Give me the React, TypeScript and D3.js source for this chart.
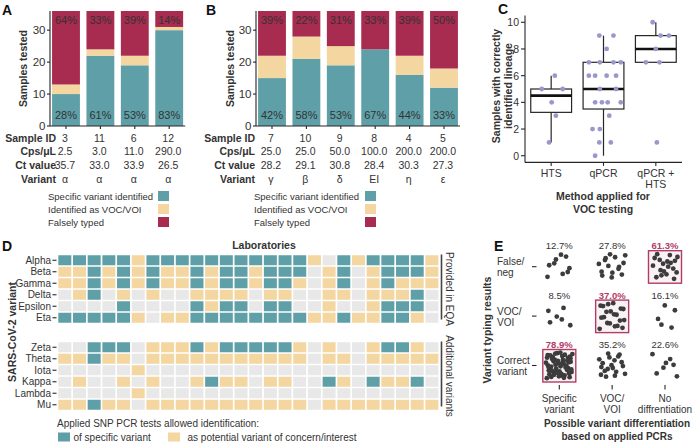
import React from "react";
import * as d3 from "d3";

const FONT = "'Liberation Sans', Arial, Helvetica, sans-serif";
const TEAL = "#5fa0a8";
const YELLOW = "#f3d6a0";
const RED = "#a82b50";
const GREY_CELL = "#e8e8e8";
const INK = "#333333";
const AXIS = "#262626";
const LAVENDER = "#9a97cb";
const DOT = "#3c3c3c";
const PINK = "#b23c66";

// ---------- Panel A ----------
const aSampleIds = ["3", "11", "6", "12"];
const aCps = ["2.5", "3.0", "11.0", "290.0"];
const aCt = ["35.7", "33.0", "33.9", "26.5"];
const aVariant = ["α", "α", "α", "α"];
const aSpecific = [10, 22, 19, 30];
const aVocVoi = [3, 2, 3, 1];
const aFalse = [23, 12, 14, 5];

// ---------- Panel B ----------
const bSampleIds = ["7", "10", "9", "8", "4", "5"];
const bCps = ["25.0", "25.0", "50.0", "100.0", "200.0", "200.0"];
const bCt = ["28.2", "29.1", "30.8", "28.4", "30.3", "27.3"];
const bVariant = ["γ", "β", "δ", "EI", "η", "ε"];
const bSpecific = [15, 21, 19, 24, 16, 12];
const bVocVoi = [7, 7, 6, 0, 6, 6];
const bFalse = [14, 8, 11, 12, 14, 18];

const barTicks = [0, 10, 20, 30];
const tableLabels = ["Sample ID", "Cps/μL", "Ct value", "Variant"];
const outcomeKeys = ["specific", "vocvoi", "falsely"];
const outcomeLabels = ["Specific variant identified", "Identified as VOC/VOI", "Falsely typed"];
const outcomeColors = [TEAL, YELLOW, RED];

// ---------- Panel C ----------
const cMethods = ["HTS", "qPCR", "qPCR + HTS"];
const cHtsValues = [5, 6, 5, 4, 3, 1];
const cHtsJitter = [-0.18, 0.07, 0.22, 0.01, 0.09, -0.04];
const cQpcrValues = [9, 9, 8, 7, 7, 7, 7, 6, 6, 6, 6, 5, 5, 4, 4, 4, 4, 3, 2, 2, 1, 1, 0];
const cQpcrJitter = [-0.08, 0.19, 0.06, -0.28, -0.07, 0.19, 0.33, -0.28, -0.16, 0.06, 0.24, -0.07, 0.24, -0.16, -0.03, 0.08, 0.33, 0.11, -0.21, -0.07, -0.08, 0.14, -0.16];
const cBothValues = [10, 9, 9, 8, 7, 7, 1];
const cBothJitter = [-0.06, 0.09, 0.25, 0.0, -0.19, 0.07, 0.02];
const cTicks = [0, 2, 4, 6, 8, 10];

// ---------- Panel D ----------
// S = specific variant, V = potential VOC/VOI, N = not identified
const eqaVariants = ["Alpha", "Beta", "Gamma", "Delta", "Epsilon", "Eta"];
const eqaRows = [
  "SSSSSVSSSSSSS" + "SSSSVNSVSSSSV",
  "VVSVSVSVVSVSS" + "VSSSNVSNVSSSV",
  "VVSVSVSVVSVSS" + "VSSVNVSNVSVVV",
  "NVSNVNVNNVVVV" + "NVVNNVVNVVVSN",
  "NNNNSNNNNSVSS" + "NSSNNVNNVSSSN",
  "SSSSSVNVVSSSS" + "SSSSVVSVVSSVN",
];
const addVariants = ["Zeta", "Theta", "Iota", "Kappa", "Lambda", "Mu"];
const addRows = [
  "NNSSSNVVVSVSS" + "SSSVNVNNVSSVN",
  "VVSVVNVVVVVVV" + "VVVVNVVNVVVVV",
  "NNNNNVNNNNNNN" + "NNNNNNNNNNNNN",
  "NVNNVNVNNVSVV" + "NVVNNSVNSVVSN",
  "NNNNNVNNNNNNN" + "NNNNNNNNNNNNN",
  "VVSVVNVVVVVVV" + "VVVVNVVVVVVVV",
];
const cellColor: Record<string, string> = { S: TEAL, V: YELLOW, N: GREY_CELL };

// ---------- Panel E ----------
const eDiffCats = ["Specific variant", "VOC/VOI", "No diffrentiation"];
const eDiffLabels = [["Specific", "variant"], ["VOC/", "VOI"], ["No", "diffrentiation"]];
const eResultCats = ["False/neg", "VOC/VOI", "Correct variant"];
const eResultLabels = [["False/", "neg"], ["VOC/", "VOI"], ["Correct", "variant"]];
const eFalseNeg = [9, 15, 19];
const eVocVoi = [6, 20, 5];
const eCorrect = [56, 19, 7];
const eHighlight = [["No diffrentiation", "False/neg"], ["VOC/VOI", "VOC/VOI"], ["Specific variant", "Correct variant"]];

function halton(i: number, b: number) {
  let f = 1, r = 0;
  while (i > 0) { f /= b; r += f * (i % b); i = Math.floor(i / b); }
  return r;
}

function BarPanel(props: any) {
  const { ids, cps, ct, variant, spec, voc, fal, axisX, labelEndX, legendTextX, legendBoxX, letter, letterX, titleX } = props;
  const y = d3.scaleLinear().domain([0, 36]).range([126, 11]);
  const step = 34.4, pi = 0.19, po = 0.06;
  const x = d3.scaleBand<string>().domain(ids).range([axisX, axisX + step * (ids.length - pi + 2 * po)]).paddingInner(pi).paddingOuter(po);
  const rows = ids.map((id: string, i: number) => ({ id, specific: spec[i], vocvoi: voc[i], falsely: fal[i] }));
  const series = d3.stack<any>().keys(outcomeKeys)(rows);
  const tableRows = [ids, cps, ct, variant];
  const rowY = [137.5, 151.2, 164.9, 178.6];
  const xEnd = x.range()[1];
  return (
    <g>
      <text x={letterX} y={15} fontWeight="bold" fontSize={14} fill="#111">{letter}</text>
      {series.map((s, si) => s.map((d, i) => (
        <rect key={si + "-" + i} x={x(ids[i])} width={x.bandwidth()} y={y(d[1])} height={Math.max(0, y(d[0]) - y(d[1]))} fill={outcomeColors[si]} />
      )))}
      {ids.map((id: string, i: number) => {
        const tot = spec[i] + voc[i] + fal[i];
        const cx = (x(id) as number) + x.bandwidth() / 2;
        return (
          <g key={"p" + id} fontSize={11} fill={INK} textAnchor="middle">
            <text x={cx} y={y(tot) + 9} dominantBaseline="central">{Math.round((100 * fal[i]) / tot)}%</text>
            <text x={cx} y={y(0) - 11} dominantBaseline="central">{Math.round((100 * spec[i]) / tot)}%</text>
          </g>
        );
      })}
      <line x1={axisX} x2={axisX} y1={y(36)} y2={y(0)} stroke={AXIS} strokeWidth={1.1} />
      <line x1={axisX} x2={xEnd} y1={y(0)} y2={y(0)} stroke={AXIS} strokeWidth={1.1} />
      {barTicks.map((t) => (
        <g key={"t" + t}>
          <line x1={axisX - 3} x2={axisX} y1={y(t)} y2={y(t)} stroke={AXIS} strokeWidth={1.1} />
          <text x={axisX - 4.5} y={y(t)} textAnchor="end" dominantBaseline="central" fontSize={11.5} fill={INK}>{t}</text>
        </g>
      ))}
      {ids.map((id: string) => {
        const cx = (x(id) as number) + x.bandwidth() / 2;
        return <line key={"xt" + id} x1={cx} x2={cx} y1={y(0)} y2={y(0) + 3} stroke={AXIS} strokeWidth={1.1} />;
      })}
      <text transform={`translate(${titleX},${(y(0) + y(36)) / 2}) rotate(-90)`} textAnchor="middle" dominantBaseline="central" fontWeight="bold" fontSize={10.5} fill={INK}>Samples tested</text>
      {tableLabels.map((lab, r) => (
        <text key={"tl" + r} x={labelEndX} y={rowY[r]} textAnchor="end" dominantBaseline="central" fontWeight="bold" fontSize={10.5} fill={INK}>{lab}</text>
      ))}
      {tableRows.map((vals: string[], r: number) =>
        vals.map((v, i) => (
          <text key={"tv" + r + "-" + i} x={(x(ids[i]) as number) + x.bandwidth() / 2 - 1} y={rowY[r]} textAnchor="middle" dominantBaseline="central" fontSize={10.5} fill={INK}>{v}</text>
        ))
      )}
      {outcomeLabels.map((lab, k) => (
        <g key={"lg" + k}>
          <text x={legendTextX} y={196 + k * 13} dominantBaseline="central" fontSize={9.5} fill={INK}>{lab}</text>
          <rect x={legendBoxX} y={191 + k * 13} width={11} height={10} fill={outcomeColors[k]} />
        </g>
      ))}
    </g>
  );
}

function PanelC() {
  const y = d3.scaleLinear().domain([-0.5, 10.5]).range([162.4, 15.6]);
  const x = d3.scaleBand<string>().domain(cMethods).range([525, 682]);
  const groups = [
    { m: cMethods[0], v: cHtsValues, j: cHtsJitter },
    { m: cMethods[1], v: cQpcrValues, j: cQpcrJitter },
    { m: cMethods[2], v: cBothValues, j: cBothJitter },
  ];
  const bw = x.bandwidth() * 0.78;
  return (
    <g>
      <text x={498} y={14} fontWeight="bold" fontSize={14} fill="#111">C</text>
      {groups.map((g) => {
        const s = [...g.v].sort(d3.ascending);
        const q1 = d3.quantileSorted(s, 0.25) as number;
        const med = d3.quantileSorted(s, 0.5) as number;
        const q3 = d3.quantileSorted(s, 0.75) as number;
        const iqr = q3 - q1;
        const lo = d3.min(s.filter((v) => v >= q1 - 1.5 * iqr)) as number;
        const hi = d3.max(s.filter((v) => v <= q3 + 1.5 * iqr)) as number;
        const cx = (x(g.m) as number) + x.bandwidth() / 2;
        return (
          <g key={g.m}>
            <line x1={cx} x2={cx} y1={y(q3)} y2={y(hi)} stroke={AXIS} strokeWidth={1.2} />
            <line x1={cx} x2={cx} y1={y(q1)} y2={y(lo)} stroke={AXIS} strokeWidth={1.2} />
            <rect x={cx - bw / 2} y={y(q3)} width={bw} height={y(q1) - y(q3)} fill="#fff" stroke={AXIS} strokeWidth={1.2} />
            <line x1={cx - bw / 2} x2={cx + bw / 2} y1={y(med)} y2={y(med)} stroke="#111" strokeWidth={2.6} />
            {g.v.map((v, i) => (
              <circle key={i} cx={cx + g.j[i] * x.bandwidth()} cy={y(v)} r={2.4} fill={LAVENDER} />
            ))}
          </g>
        );
      })}
      <line x1={525} x2={525} y1={y(10.5)} y2={y(-0.5)} stroke={AXIS} strokeWidth={1.1} />
      <line x1={525} x2={682} y1={y(-0.5)} y2={y(-0.5)} stroke={AXIS} strokeWidth={1.1} />
      {cTicks.map((t) => (
        <g key={t}>
          <line x1={521} x2={525} y1={y(t)} y2={y(t)} stroke={AXIS} strokeWidth={1.1} />
          <text x={519} y={y(t)} textAnchor="end" dominantBaseline="central" fontSize={10.5} fill={INK}>{t}</text>
        </g>
      ))}
      {cMethods.map((m) => {
        const cx = (x(m) as number) + x.bandwidth() / 2;
        const parts = m === "qPCR + HTS" ? ["qPCR +", "HTS"] : [m];
        return (
          <g key={m}>
            <line x1={cx} x2={cx} y1={y(-0.5)} y2={y(-0.5) + 3.5} stroke={AXIS} strokeWidth={1.1} />
            {parts.map((p, k) => (
              <text key={k} x={cx} y={173 + k * 11} textAnchor="middle" dominantBaseline="central" fontSize={10.5} fill={INK}>{p}</text>
            ))}
          </g>
        );
      })}
      <text x={603} y={195.5} textAnchor="middle" dominantBaseline="central" fontWeight="bold" fontSize={10.5} fill={INK}>Method applied for</text>
      <text x={603} y={208.5} textAnchor="middle" dominantBaseline="central" fontWeight="bold" fontSize={10.5} fill={INK}>VOC testing</text>
      <text transform={`translate(496,86) rotate(-90)`} textAnchor="middle" dominantBaseline="central" fontWeight="bold" fontSize={10.5} fill={INK}>Samples with correctly</text>
      <text transform={`translate(508,86) rotate(-90)`} textAnchor="middle" dominantBaseline="central" fontWeight="bold" fontSize={10.5} fill={INK}>identified lineage</text>
    </g>
  );
}

function PanelD() {
  const nLabs = eqaRows[0].length;
  const labs = d3.range(nLabs).map(String);
  const x = d3.scaleBand<string>().domain(labs).range([57.5, 439.2]).paddingInner(0.115).paddingOuter(0.055);
  const facets = [
    { names: eqaVariants, rows: eqaRows, range: [254.5, 323.5], strip: "Provided in EQA" },
    { names: addVariants, rows: addRows, range: [341.5, 410.5], strip: "Additional variants" },
  ];
  return (
    <g>
      <text x={2} y={251} fontWeight="bold" fontSize={14} fill="#111">D</text>
      <text x={264} y={245} textAnchor="middle" dominantBaseline="central" fontWeight="bold" fontSize={10.5} fill={INK}>Laboratories</text>
      <text transform="translate(12,332) rotate(-90)" textAnchor="middle" dominantBaseline="central" fontWeight="bold" fontSize={10.5} fill={INK}>SARS-CoV-2 variant</text>
      {facets.map((f, fi) => {
        const y = d3.scaleBand<string>().domain(f.names).range(f.range as [number, number]).paddingInner(0.13).paddingOuter(0.065);
        const mid = (f.range[0] + f.range[1]) / 2;
        return (
          <g key={fi}>
            {f.names.map((name, ri) => (
              <g key={name}>
                {labs.map((l, ci) => (
                  <rect key={l} x={x(l)} y={y(name)} width={x.bandwidth()} height={y.bandwidth()} fill={cellColor[f.rows[ri][ci]]} />
                ))}
                <text x={51} y={(y(name) as number) + y.bandwidth() / 2} textAnchor="end" dominantBaseline="central" fontSize={10} fill={INK}>{name}</text>
                <line x1={52.5} x2={56.5} y1={(y(name) as number) + y.bandwidth() / 2} y2={(y(name) as number) + y.bandwidth() / 2} stroke={AXIS} strokeWidth={1.1} />
              </g>
            ))}
            <line x1={441.5} x2={441.5} y1={f.range[0]} y2={f.range[1] - 4} stroke="#444" strokeWidth={1.6} />
            <text transform={`translate(449,${mid}) rotate(90)`} textAnchor="middle" dominantBaseline="central" fontSize={10} fill={INK}>{f.strip}</text>
          </g>
        );
      })}
      <text x={57} y={423.5} dominantBaseline="central" fontSize={10} fill={INK}>Applied SNP PCR tests allowed identification:</text>
      <rect x={58} y={432.5} width={12} height={9} fill={TEAL} />
      <text x={73.5} y={437} dominantBaseline="central" fontSize={10} fill={INK}>of specific variant</text>
      <rect x={168} y={432.5} width={12} height={9} fill={YELLOW} />
      <text x={187.5} y={437} dominantBaseline="central" fontSize={10} fill={INK}>as potential variant of concern/interest</text>
    </g>
  );
}

function PanelE() {
  const x = d3.scalePoint<string>().domain(eDiffCats).range([559.3, 665]);
  const y = d3.scalePoint<string>().domain(eResultCats).range([266.7, 365.5]);
  const countRows = [eFalseNeg, eVocVoi, eCorrect];
  const colTotals = eDiffCats.map((_, ci) => d3.sum(countRows, (r) => r[ci]));
  const isHi = (d: string, r: string) => eHighlight.some((h) => h[0] === d && h[1] === r);
  return (
    <g>
      <text x={494} y={251} fontWeight="bold" fontSize={14} fill="#111">E</text>
      <text transform="translate(487,330) rotate(-90)" textAnchor="middle" dominantBaseline="central" fontWeight="bold" fontSize={10.5} fill={INK}>Variant typing results</text>
      {eResultCats.map((r, ri) => (
        <g key={r}>
          {eResultLabels[ri].map((t, k) => (
            <text key={k} x={497} y={(y(r) as number) - 5 + k * 11} dominantBaseline="central" fontSize={10} fill={INK}>{t}</text>
          ))}
          <line x1={532} x2={536.5} y1={y(r)} y2={y(r)} stroke={AXIS} strokeWidth={1.1} />
        </g>
      ))}
      {eDiffCats.map((d, di) => (
        <g key={d}>
          <line x1={x(d)} x2={x(d)} y1={385} y2={389.5} stroke={AXIS} strokeWidth={1.1} />
          {eDiffLabels[di].map((t, k) => (
            <text key={k} x={x(d)} y={398.5 + k * 11} textAnchor="middle" dominantBaseline="central" fontSize={10} fill={INK}>{t}</text>
          ))}
        </g>
      ))}
      {eResultCats.map((r, ri) =>
        eDiffCats.map((d, di) => {
          const n = countRows[ri][di];
          const cx = x(d) as number, cy = y(r) as number;
          const hi = isHi(d, r);
          const pct = ((100 * n) / colTotals[di]).toFixed(1) + "%";
          const base = (di * 3 + ri) * 17 + 3;
          return (
            <g key={r + d}>
              {hi && <rect x={cx - 16.5} y={cy - 16} width={33} height={32.5} fill="#b23c66" fillOpacity={0.07} stroke={PINK} strokeWidth={1.4} />}
              {d3.range(n).map((k) => (
                <circle key={k} cx={cx + (halton(base + k, 2) - 0.5) * 27} cy={cy + (halton(base + k, 3) - 0.5) * 26} r={2.4} fill={DOT} />
              ))}
              <text x={cx} y={cy - 21} textAnchor="middle" dominantBaseline="central" fontSize={9.5} fontWeight={hi ? "bold" : "normal"} fill={hi ? PINK : INK}>{pct}</text>
            </g>
          );
        })
      )}
      <text x={617} y={423.5} textAnchor="middle" dominantBaseline="central" fontWeight="bold" fontSize={10} fill={INK}>Possible variant differentiation</text>
      <text x={617} y={436.5} textAnchor="middle" dominantBaseline="central" fontWeight="bold" fontSize={10} fill={INK}>based on applied PCRs</text>
    </g>
  );
}

export default function App() {
  return (
    <div style={{ position: "fixed", left: 0, top: 0 }}>
      <svg width={696} height={444} style={{ display: "block", background: "#fff", fontFamily: FONT }}>
        <BarPanel ids={aSampleIds} cps={aCps} ct={aCt} variant={aVariant} spec={aSpecific} voc={aVocVoi} fal={aFalse}
          axisX={50} labelEndX={56} legendTextX={48} legendBoxX={158} letter="A" letterX={2} titleX={23} />
        <BarPanel ids={bSampleIds} cps={bCps} ct={bCt} variant={bVariant} spec={bSpecific} voc={bVocVoi} fal={bFalse}
          axisX={256} labelEndX={255} legendTextX={254} legendBoxX={365} letter="B" letterX={206} titleX={230} />
        <PanelC />
        <PanelD />
        <PanelE />
      </svg>
    </div>
  );
}
